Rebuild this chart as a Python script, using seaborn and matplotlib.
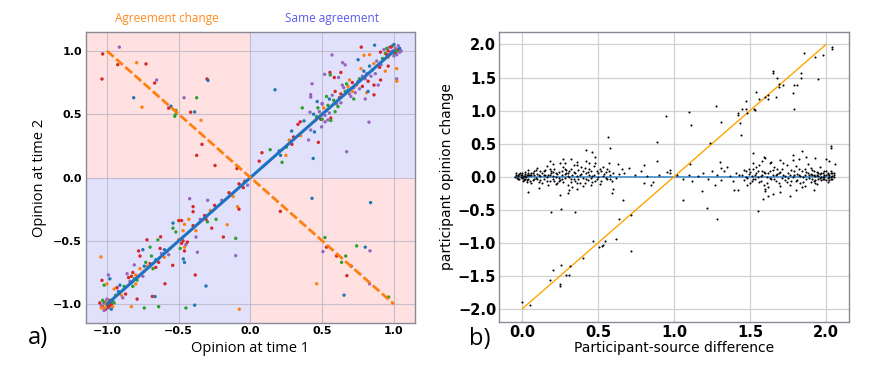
"""Two-panel opinion change figure: a) time1 vs time2, b) change vs source difference."""

import matplotlib.pyplot as plt
import matplotlib.patches as mpatches
import pandas as pd
import seaborn as sns

# ---------------- panel a data: (opinion t1, opinion t2, participant group) ----------------
top_left = [
    (-0.914, 1.03, 4), (-1.03, 0.976, 3), (-0.793, 0.907, 1), (-0.925, 0.891, 3),
    (-0.728, 0.897, 3), (-1.035, 0.778, 3), (-0.654, 0.77, 4), (-0.668, 0.746, 3),
    (-0.303, 0.778, 3), (-0.296, 0.767, 0), (-0.814, 0.63, 0), (-0.463, 0.63, 4),
    (-0.375, 0.63, 2), (-0.756, 0.556, 1), (-0.554, 0.563, 0), (-0.57, 0.548, 3),
    (-0.52, 0.53, 2), (-0.519, 0.503, 2), (-0.528, 0.484, 2), (-0.417, 0.516, 3),
    (-0.389, 0.518, 0), (-0.345, 0.452, 1), (-0.338, 0.262, 3), (-0.375, 0.175, 3),
    (-0.247, 0.095, 3), (-0.094, 0.071, 3),
]
bottom_right = [
    (0.429, -0.164, 0), (0.837, -0.198, 0), (0.208, -0.267, 3), (0.519, -0.474, 2),
    (0.505, -0.585, 4), (0.53, -0.55, 3), (0.74, -0.54, 2), (0.80, -0.55, 0),
    (0.833, -0.579, 4), (0.664, -0.62, 2), (0.635, -0.67, 2), (0.60, -0.62, 3),
    (0.702, -0.70, 3), (0.672, -0.775, 3), (0.461, -0.839, 1), (0.83, -0.84, 4),
    (0.652, -0.929, 0), (0.963, -0.944, 2),
]
top_right = [
    # cluster near (1, 1)
    (0.97, 1.03, 4), (0.99, 1.04, 2), (1.01, 1.02, 4), (1.03, 1.01, 3), (0.98, 0.99, 4),
    (1.0, 0.98, 2), (1.02, 0.97, 4), (0.96, 1.0, 3), (1.04, 0.99, 4), (1.0, 1.05, 0),
    (0.95, 1.02, 2), (0.99, 1.0, 4), (1.01, 0.99, 3), (0.97, 0.97, 4), (1.03, 1.04, 4),
    (0.94, 0.98, 2), (1.05, 1.0, 4), (0.98, 1.03, 3), (1.02, 1.0, 2), (0.96, 0.95, 1),
    (1.0, 0.96, 4), (0.93, 1.01, 4), (1.04, 1.02, 0), (0.95, 0.97, 3),
    (0.92, 0.94, 2), (0.88, 0.92, 4), (0.9, 0.87, 3), (0.86, 0.9, 1), (0.85, 0.85, 2),
    (0.87, 0.82, 4), (0.83, 0.88, 0), (0.91, 0.89, 4),
    # cluster near (0.7, 0.7)
    (0.68, 0.72, 1), (0.70, 0.70, 3), (0.72, 0.71, 4), (0.66, 0.68, 2), (0.69, 0.66, 4),
    (0.74, 0.73, 1), (0.71, 0.75, 3), (0.65, 0.71, 4), (0.73, 0.67, 4), (0.67, 0.74, 2),
    (0.70, 0.64, 4), (0.76, 0.70, 4), (0.63, 0.66, 3), (0.69, 0.77, 1), (0.75, 0.76, 4),
    (0.72, 0.62, 2), (0.64, 0.73, 4), (0.78, 0.72, 3), (0.68, 0.69, 0), (0.71, 0.68, 1),
    (0.78, 0.80, 4), (0.80, 0.78, 4), (0.82, 0.76, 3), (0.79, 0.84, 0), (0.81, 0.82, 4),
    (0.77, 0.86, 1), (0.84, 0.80, 4), (0.76, 0.78, 2),
    # cluster near (0.5, 0.5)
    (0.48, 0.52, 4), (0.50, 0.50, 3), (0.52, 0.49, 4), (0.46, 0.48, 2), (0.51, 0.55, 1),
    (0.53, 0.53, 4), (0.49, 0.46, 3), (0.55, 0.51, 4), (0.47, 0.55, 2), (0.44, 0.50, 0),
    (0.52, 0.44, 4), (0.56, 0.47, 3), (0.50, 0.58, 4), (0.45, 0.45, 1), (0.54, 0.57, 2),
    (0.58, 0.61, 2), (0.60, 0.58, 4), (0.62, 0.63, 3), (0.57, 0.65, 4), (0.61, 0.56, 2),
    (0.59, 0.68, 3), (0.63, 0.59, 4), (0.55, 0.62, 0),
    # scattered
    (0.171, 0.693, 0), (0.772, 1.03, 3), (0.865, 1.045, 0), (0.906, 0.99, 3),
    (0.568, 0.968, 4), (0.791, 0.965, 1), (0.83, 0.97, 1), (1.019, 0.86, 1),
    (1.019, 0.78, 4), (1.02, 0.76, 1), (0.642, 0.907, 4), (0.66, 0.89, 4),
    (0.75, 0.93, 0), (0.517, 0.815, 4), (0.554, 0.83, 3), (0.556, 0.81, 2),
    (0.584, 0.79, 3), (0.63, 0.83, 3), (0.614, 0.79, 4), (0.429, 0.74, 4),
    (0.42, 0.655, 4), (0.42, 0.635, 4), (0.361, 0.55, 2), (0.415, 0.516, 4),
    (0.465, 0.6, 0), (0.5, 0.585, 4), (0.53, 0.64, 2), (0.59, 0.52, 2),
    (0.56, 0.45, 2), (0.54, 0.455, 4), (0.5, 0.46, 2), (0.496, 0.4, 4),
    (0.373, 0.447, 0), (0.347, 0.44, 3), (0.331, 0.42, 3), (0.287, 0.367, 0),
    (0.42, 0.375, 4), (0.446, 0.36, 0), (0.27, 0.296, 1), (0.289, 0.262, 3),
    (0.473, 0.278, 3), (0.405, 0.296, 4), (0.08, 0.196, 3), (0.061, 0.129, 3),
    (0.137, 0.22, 2), (0.21, 0.175, 0), (0.247, 0.175, 1), (0.22, 0.12, 2),
    (0.437, 0.151, 0), (0.67, 0.204, 4), (0.826, 0.437, 4), (0.861, 0.653, 3),
    (0.81, 0.67, 1), (0.82, 0.68, 0), (0.907, 0.77, 3), (0.89, 0.73, 4),
    (0.861, 0.73, 3), (0.80, 0.62, 4), (0.94, 0.84, 1), (0.96, 0.88, 3),
    (0.2, 0.21, 0), (0.3, 0.32, 3), (0.35, 0.33, 1), (0.25, 0.24, 2),
]
bottom_left = [
    # cluster near (-1, -1)
    (-1.03, -1.02, 3), (-1.01, -0.98, 1), (-0.99, -1.03, 4), (-0.97, -1.0, 3),
    (-1.02, -0.99, 0), (-1.0, -1.01, 2), (-0.98, -0.97, 3), (-1.04, -1.01, 4),
    (-0.96, -1.02, 1), (-1.01, -1.04, 3), (-0.99, -0.99, 4), (-1.03, -0.97, 2),
    (-0.97, -1.04, 0), (-1.02, -1.03, 1), (-0.98, -1.01, 3), (-1.0, -0.96, 4),
    (-0.95, -0.99, 2), (-1.05, -0.99, 3), (-1.01, -1.0, 1), (-0.96, -0.97, 0),
    (-1.02, -1.05, 4), (-0.99, -1.02, 3), (-0.97, -0.98, 2), (-1.04, -1.03, 1),
    # cluster near (-0.82, -0.8)
    (-0.83, -0.78, 3), (-0.81, -0.80, 2), (-0.80, -0.77, 1), (-0.84, -0.82, 4),
    (-0.82, -0.75, 3), (-0.79, -0.81, 2), (-0.85, -0.79, 3), (-0.80, -0.84, 1),
    (-0.83, -0.83, 0), (-0.78, -0.78, 3), (-0.82, -0.86, 2), (-0.86, -0.76, 4),
    (-0.92, -0.90, 0), (-0.90, -0.93, 1), (-0.88, -0.86, 2), (-0.93, -0.87, 3),
    (-0.89, -0.95, 4), (-0.91, -0.85, 0), (-0.87, -0.92, 3), (-0.94, -0.93, 2),
    (-0.95, -0.88, 1),
    (-0.72, -0.70, 1), (-0.70, -0.68, 3), (-0.68, -0.72, 2), (-0.66, -0.65, 0),
    (-0.64, -0.67, 3), (-0.62, -0.60, 4), (-0.74, -0.74, 1), (-0.69, -0.62, 2),
    (-0.60, -0.63, 1), (-0.58, -0.58, 4), (-0.66, -0.71, 3), (-0.73, -0.67, 2),
    (-0.63, -0.56, 3), (-0.57, -0.61, 4), (-0.77, -0.72, 1), (-0.75, -0.78, 4),
    # cluster near (-0.47, -0.53)
    (-0.48, -0.52, 3), (-0.46, -0.55, 1), (-0.47, -0.50, 3), (-0.45, -0.53, 4),
    (-0.49, -0.56, 2), (-0.44, -0.51, 3), (-0.50, -0.49, 1), (-0.46, -0.58, 3),
    (-0.40, -0.38, 3), (-0.38, -0.42, 1), (-0.35, -0.33, 4), (-0.32, -0.30, 3),
    (-0.30, -0.35, 2), (-0.28, -0.26, 1), (-0.25, -0.22, 3), (-0.20, -0.18, 4),
    (-0.15, -0.12, 3), (-0.12, -0.15, 1), (-0.08, -0.05, 3), (-0.05, -0.08, 3),
    (-0.04, -0.03, 3), (-0.02, -0.06, 4),
    # scattered
    (-1.042, -0.627, 1), (-1.035, -0.812, 3), (-0.99, -0.77, 4), (-0.98, -0.80, 0),
    (-1.0, -0.84, 1), (-1.02, -0.85, 2), (-0.721, -0.492, 3), (-0.645, -0.492, 2),
    (-0.626, -0.468, 3), (-0.75, -0.57, 0), (-0.78, -0.58, 3), (-0.70, -0.55, 2),
    (-0.77, -0.62, 3), (-0.81, -0.69, 4), (-0.74, -0.70, 0), (-0.6, -0.57, 0),
    (-0.56, -0.56, 2), (-0.542, -0.693, 3), (-0.596, -0.839, 3), (-0.684, -0.939, 3),
    (-0.665, -0.94, 0), (-0.79, -0.96, 3), (-0.64, -1.02, 2), (-0.74, -1.03, 2),
    (-0.83, -1.02, 1), (-0.468, -0.643, 0), (-0.46, -0.67, 0), (-0.385, -0.77, 3),
    (-0.31, -0.857, 0), (-0.389, -1.008, 0), (-0.45, -1.03, 2), (-0.078, -1.04, 1),
    (-0.103, -0.617, 4), (-0.103, -0.48, 2), (-0.162, -0.373, 1), (-0.189, -0.47, 3),
    (-0.27, -0.40, 3), (-0.24, -0.33, 2), (-0.31, -0.33, 3), (-0.298, -0.18, 4),
    (-0.424, -0.167, 4), (-0.40, -0.23, 3), (-0.40, -0.27, 3), (-0.09, -0.23, 1),
    (-0.08, -0.25, 3), (-0.38, -0.47, 4), (-0.37, -0.59, 4), (-0.50, -0.34, 3),
    (-0.48, -0.34, 3), (-0.46, -0.37, 1), (-0.43, -0.33, 1), (-0.54, -0.36, 0),
    (-0.54, -0.40, 2), (-0.52, -0.43, 2), (-0.47, -0.42, 1),
]
same_line_x = [-1.0, 1.0]
same_line_y = [-1.0, 1.0]
flip_line_x = [-1.0, 1.0]
flip_line_y = [1.0, -1.0]

# ---------------- panel b data: (participant-source difference, opinion change) ----------------
band_left = [
    (-0.04, 0.02), (-0.03, -0.03), (-0.02, 0.04), (-0.01, -0.01), (0.0, 0.05),
    (0.01, -0.04), (0.02, 0.01), (0.03, -0.05), (0.04, 0.03), (-0.035, -0.02),
    (-0.015, 0.06), (0.005, -0.06), (0.025, 0.0), (0.045, 0.02), (-0.045, -0.01),
    (-0.025, 0.03), (0.015, -0.03), (0.035, 0.05), (0.0, -0.02), (0.01, 0.01),
    (0.06, 0.03), (0.07, -0.05), (0.08, 0.08), (0.09, -0.02), (0.10, 0.04),
    (0.11, -0.08), (0.12, 0.01), (0.13, 0.06), (0.14, -0.04), (0.15, 0.10),
    (0.16, -0.01), (0.17, 0.03), (0.18, -0.07), (0.19, 0.05), (0.20, -0.03),
    (0.21, 0.12), (0.22, 0.00), (0.23, -0.10), (0.24, 0.07), (0.25, -0.05),
    (0.26, 0.02), (0.27, 0.15), (0.28, -0.02), (0.29, 0.05), (0.30, -0.12),
    (0.31, 0.08), (0.32, -0.04), (0.33, 0.03), (0.34, 0.18), (0.35, -0.06),
    (0.36, 0.01), (0.37, 0.10), (0.38, -0.09), (0.39, 0.04), (0.40, -0.02),
    (0.41, 0.13), (0.42, 0.06), (0.43, -0.05), (0.44, 0.02), (0.45, 0.09),
    (0.46, -0.08), (0.47, 0.03), (0.48, 0.20), (0.49, -0.03), (0.50, 0.05),
    (0.51, 0.11), (0.52, -0.06), (0.53, 0.01), (0.55, 0.07), (0.56, -0.04),
    (0.58, 0.02), (0.60, 0.05), (0.62, -0.02), (0.64, 0.04), (0.67, 0.06),
    (0.70, 0.13), (0.74, 0.03), (0.78, 0.09), (0.82, 0.01), (0.86, -0.08),
    (0.90, 0.03), (0.95, 0.07),
    (0.05, -0.06), (0.07, 0.05), (0.09, 0.10), (0.11, 0.03), (0.13, -0.09),
    (0.15, 0.02), (0.17, -0.12), (0.19, 0.09), (0.21, -0.06), (0.23, 0.04),
    (0.25, 0.21), (0.27, -0.08), (0.29, 0.10), (0.31, -0.01), (0.33, -0.15),
    (0.35, 0.06), (0.37, -0.03), (0.39, 0.14), (0.41, -0.10), (0.43, 0.07),
    (0.45, -0.02), (0.47, 0.16), (0.49, 0.08), (0.51, -0.11), (0.53, 0.14),
    (0.55, -0.02), (0.57, 0.09), (0.59, -0.07),
    (0.02, 0.07), (0.03, -0.08), (0.04, 0.10), (0.05, 0.02), (0.06, -0.10),
    (0.08, -0.03), (0.10, 0.13), (0.12, -0.05), (0.14, 0.08), (0.16, 0.16),
    (0.18, 0.02), (0.20, 0.07), (0.22, -0.11), (0.24, -0.02), (0.26, 0.09),
    (0.28, 0.04), (0.30, 0.01), (0.32, 0.11), (0.34, -0.03), (0.36, 0.22),
    (0.00, 0.03), (0.01, -0.05), (0.02, 0.04), (0.03, 0.02), (0.04, -0.03),
    (-0.04, 0.05), (-0.03, 0.01), (-0.02, -0.04), (-0.01, 0.03), (0.005, 0.0),
    (0.06, 0.06), (0.08, 0.02), (0.10, -0.04), (0.12, 0.09), (0.14, 0.02),
    (0.16, -0.06), (0.18, 0.11), (0.20, 0.01), (0.22, 0.05), (0.24, -0.07),
    (0.26, -0.03), (0.28, 0.12), (0.30, 0.06), (0.32, -0.08), (0.34, 0.07),
    (0.36, -0.10), (0.38, 0.03), (0.40, 0.09), (0.42, -0.04), (0.44, 0.12),
    (0.46, 0.01), (0.48, -0.06), (0.50, -0.01), (0.52, 0.08), (0.54, 0.04),
    (0.56, 0.12), (0.58, -0.04),
]
outliers_left = [
    (0.565, 0.60), (0.576, 0.44), (0.89, 0.53), (0.418, 0.40), (0.46, 0.38),
    (0.27, 0.27), (0.18, 0.23), (0.20, 0.19), (0.28, 0.21), (0.32, 0.26),
    (0.36, 0.18), (0.42, 0.24), (0.44, 0.21), (0.48, 0.29), (0.57, 0.20),
    (0.63, 0.19), (0.66, 0.12), (0.80, 0.17), (0.89, 0.24), (0.97, 0.10),
    (0.97, 0.05), (0.04, -0.24), (0.11, -0.17), (0.30, -0.25), (0.31, -0.20),
    (0.25, -0.28), (0.36, -0.18), (0.40, -0.14), (0.45, -0.13), (0.59, -0.25),
    (0.595, -0.19), (0.663, -0.35), (0.19, -0.53), (0.255, -0.49), (0.35, -0.54),
    (0.637, -0.64), (0.714, -0.578), (0.80, -0.10), (0.85, -0.12),
]
band_right = [
    (1.02, 0.03), (1.06, -0.04), (1.10, 0.02), (1.12, -0.06), (1.16, 0.01),
    (1.19, 0.05), (1.22, -0.03), (1.25, 0.08), (1.28, 0.02), (1.31, -0.05),
    (1.33, 0.09), (1.35, 0.15), (1.37, 0.01), (1.39, -0.07), (1.41, 0.05),
    (1.43, 0.03),
    (1.45, 0.02), (1.46, -0.05), (1.47, 0.08), (1.48, -0.02), (1.49, 0.04),
    (1.50, -0.09), (1.51, 0.01), (1.52, 0.12), (1.53, -0.04), (1.54, 0.06),
    (1.55, -0.01), (1.56, 0.18), (1.57, -0.07), (1.58, 0.03), (1.59, -0.12),
    (1.60, 0.05), (1.61, 0.00), (1.62, -0.15), (1.63, 0.09), (1.64, -0.03),
    (1.65, 0.02), (1.66, 0.14), (1.67, -0.06), (1.68, 0.04), (1.69, -0.10),
    (1.70, 0.07), (1.71, -0.02), (1.72, 0.20), (1.73, 0.01), (1.74, -0.08),
    (1.75, 0.05), (1.76, -0.13), (1.77, 0.10), (1.78, -0.01), (1.79, 0.03),
    (1.80, 0.16), (1.81, -0.05), (1.82, 0.02), (1.83, -0.09), (1.84, 0.08),
    (1.85, 0.00), (1.86, 0.11), (1.87, -0.04), (1.88, 0.06), (1.89, -0.02),
    (1.90, 0.13), (1.91, 0.03), (1.92, -0.06), (1.93, 0.01), (1.94, 0.07),
    (1.95, -0.03), (1.96, 0.04), (1.97, -0.01), (1.98, 0.05), (1.99, -0.04),
    (2.00, 0.02), (2.01, -0.02), (2.02, 0.03), (2.03, -0.01), (2.04, 0.01),
    (1.46, 0.10), (1.48, -0.12), (1.50, 0.07), (1.52, -0.03), (1.54, 0.15),
    (1.56, -0.08), (1.58, 0.09), (1.60, -0.18), (1.62, 0.06), (1.64, 0.22),
    (1.66, -0.04), (1.68, 0.12), (1.70, -0.14), (1.72, 0.03), (1.74, 0.17),
    (1.76, 0.02), (1.78, 0.25), (1.80, -0.07), (1.82, 0.12), (1.84, -0.15),
    (1.86, 0.03), (1.88, 0.19), (1.90, -0.08), (1.92, 0.09), (1.94, -0.11),
    (1.96, 0.14), (1.98, 0.00), (2.00, 0.08), (2.02, -0.05), (2.04, 0.06),
    (1.90, 0.04), (1.91, -0.03), (1.92, 0.02), (1.93, -0.05), (1.94, 0.03),
    (1.95, 0.01), (1.96, -0.02), (1.97, 0.06), (1.98, -0.03), (1.99, 0.02),
    (2.00, -0.05), (2.01, 0.04), (2.02, 0.00), (2.03, 0.05), (2.04, -0.03),
    (2.05, 0.02), (2.05, -0.01), (1.99, 0.08), (2.01, -0.08), (2.03, 0.09),
    (1.47, -0.01), (1.49, 0.11), (1.51, -0.06), (1.53, 0.03), (1.55, 0.09),
    (1.57, 0.01), (1.59, 0.07), (1.61, -0.09), (1.63, -0.02), (1.65, 0.10),
    (1.67, 0.02), (1.69, 0.06), (1.71, 0.11), (1.73, -0.05), (1.75, -0.02),
    (1.77, -0.07), (1.79, 0.09), (1.81, 0.04), (1.83, 0.01), (1.85, -0.08),
    (1.87, 0.07), (1.89, 0.02), (1.91, 0.10), (1.93, -0.09), (1.95, 0.06),
    (1.97, -0.05), (1.99, -0.01), (2.01, 0.06), (2.03, -0.04), (2.05, 0.05),
]
outliers_right = [
    (1.105, 0.187), (1.27, -0.125), (1.186, -0.215), (1.059, -0.36), (1.215, -0.477),
    (1.28, -0.645), (1.55, -0.513), (1.586, -0.337), (1.395, -0.205), (1.42, -0.20),
    (1.30, 0.22), (1.31, 0.13), (1.44, 0.63), (1.236, 0.51),
    (2.036, 0.47), (2.036, 0.43), (1.84, 0.39), (2.0, 0.27), (2.02, 0.24),
    (2.06, 0.19), (1.60, 0.28), (1.59, 0.30), (1.70, 0.25), (1.78, 0.33),
    (1.82, 0.26), (1.87, 0.29), (1.93, 0.28), (1.52, 0.36), (1.52, 0.20),
    (1.58, 0.24), (1.63, 0.20), (1.65, -0.26), (1.70, -0.23), (1.76, -0.30),
    (1.80, -0.20), (1.86, -0.14), (1.92, -0.20), (1.60, -0.22), (1.62, -0.30),
]
flipped_points = [
    (0.945, 0.92), (1.098, 0.977), (1.111, 0.786), (1.274, 1.068), (1.309, 0.826),
    (1.474, 1.139), (1.45, 1.03), (1.47, 1.03), (1.42, 0.96), (1.42, 0.93),
    (1.432, 0.816), (1.48, 0.97), (1.524, 1.03), (1.53, 1.01), (1.54, 1.28),
    (1.56, 1.17), (1.60, 1.21), (1.62, 1.235), (1.62, 1.18), (1.651, 1.60),
    (1.651, 1.57), (1.68, 1.49), (1.67, 1.20), (1.69, 1.395), (1.69, 1.355),
    (1.72, 1.39), (1.788, 1.39), (1.808, 1.39), (1.783, 1.265), (1.79, 1.02),
    (1.838, 1.566), (1.836, 1.49), (1.858, 1.87), (1.926, 1.81), (1.95, 1.48),
    (1.98, 1.84), (2.04, 1.96), (2.04, 1.925),
    (-0.004, -1.89), (0.05, -1.94), (0.18, -1.57), (0.20, -1.42), (0.257, -1.33),
    (0.248, -1.62), (0.248, -1.655), (0.29, -1.49), (0.305, -1.49), (0.314, -1.345),
    (0.40, -1.228), (0.464, -0.976), (0.505, -1.06), (0.525, -1.05), (0.53, -1.03),
    (0.543, -0.976), (0.615, -0.937), (0.718, -1.12),
]
stay_line_x = [-0.05, 2.05]
stay_line_y = [0.0, 0.0]
flip_b_x = [0.0, 2.0]
flip_b_y = [-2.0, 2.0]

group_colors = ["#1f77b4", "#ff7f0e", "#2ca02c", "#d62728", "#9467bd"]

sns.set_theme(style="whitegrid")
plt.rcParams["font.family"] = ["DejaVu Sans"]
plt.rcParams.update({
    "text.color": "black", "axes.labelcolor": "black",
    "xtick.color": "black", "ytick.color": "black",
})

fig = plt.figure(figsize=(8.7, 3.71), dpi=100)
ax_a = fig.add_axes([0.0989, 0.129, 0.378, 0.785])
ax_b = fig.add_axes([0.5736, 0.132, 0.402, 0.782])

# ---------------- panel a ----------------
df_a = pd.DataFrame(top_left + top_right + bottom_left + bottom_right,
                    columns=["t1", "t2", "group"])
pink, lavender = "#ffe1e2", "#e1e1fc"
for (x0, y0), col in [((-2, 0), pink), ((0, 0), lavender), ((-2, -2), lavender), ((0, -2), pink)]:
    ax_a.add_patch(mpatches.Rectangle((x0, y0), 2, 2, facecolor=col, edgecolor="none", zorder=0))

sns.scatterplot(data=df_a, x="t1", y="t2", hue="group", palette=group_colors,
                s=6, linewidth=0, legend=False, ax=ax_a, zorder=3)
sns.lineplot(x=same_line_x, y=same_line_y, color="#1f72c0", linewidth=2.2, ax=ax_a, zorder=4)
sns.lineplot(x=flip_line_x, y=flip_line_y, color="#ff7f0e", linewidth=2.0,
             linestyle=(0, (3.2, 1.2)), ax=ax_a, zorder=4)

ax_a.set_xlim(-1.146, 1.146)
ax_a.set_ylim(-1.15, 1.15)
ax_a.set_xticks([-1.0, -0.5, 0.0, 0.5, 1.0])
ax_a.set_yticks([-1.0, -0.5, 0.0, 0.5, 1.0])
ax_a.set_axisbelow(True)
ax_a.grid(True, color="#b9b4c8", linewidth=0.8, alpha=0.8)
ax_a.set_facecolor("white")
ax_a.set_xlabel("Opinion at time 1", fontsize=10.5, family=["Open Sans", "DejaVu Sans"], labelpad=4)
ax_a.set_ylabel("Opinion at time 2", fontsize=10.5, family=["Open Sans", "DejaVu Sans"], labelpad=4)
ax_a.tick_params(labelsize=8, length=0, pad=3)
ax_a.tick_params(axis="x", pad=2)
ax_a.text(0.246, 1.045, "Agreement change", transform=ax_a.transAxes, ha="center", va="center",
          color="#ff8a1c", fontsize=8.5, family=["Open Sans", "DejaVu Sans"])
ax_a.text(0.748, 1.045, "Same agreement", transform=ax_a.transAxes, ha="center", va="center",
          color="#5a5af0", fontsize=8.5, family=["Open Sans", "DejaVu Sans"])

# ---------------- panel b ----------------
df_b = pd.DataFrame(band_left + outliers_left + band_right + outliers_right + flipped_points,
                    columns=["diff", "change"])
sns.lineplot(x=stay_line_x, y=stay_line_y, color="#5b9bd5", linewidth=1.4, ax=ax_b, zorder=2)
sns.lineplot(x=flip_b_x, y=flip_b_y, color="#ffa500", linewidth=1.0, ax=ax_b, zorder=2)
sns.scatterplot(data=df_b, x="diff", y="change", color="black", s=2.2, linewidth=0,
                legend=False, ax=ax_b, zorder=3)

ax_b.set_xlim(-0.153, 2.15)
ax_b.set_ylim(-2.2, 2.19)
ax_b.set_xticks([0.0, 0.5, 1.0, 1.5, 2.0])
ax_b.set_yticks([-2.0, -1.5, -1.0, -0.5, 0.0, 0.5, 1.0, 1.5, 2.0])
ax_b.grid(True, color="#d0d0d0", linewidth=0.9)
ax_b.set_xlabel("Participant-source difference", fontsize=10, labelpad=1)
ax_b.set_ylabel("participant opinion change", fontsize=10, labelpad=3)
ax_b.tick_params(labelsize=10.5, length=0, pad=2)

for ax in (ax_a, ax_b):
    for lab in ax.get_xticklabels() + ax.get_yticklabels():
        lab.set_fontweight("bold")
    for sp in ax.spines.values():
        sp.set_visible(True)
        sp.set_color("#8a8a96")
        sp.set_linewidth(1.0)

fig.text(0.044, 0.09, "a)", fontsize=17, ha="center", va="center", family=["Open Sans", "DejaVu Sans"])
fig.text(0.551, 0.085, "b)", fontsize=17, ha="center", va="center", family=["Open Sans", "DejaVu Sans"])

fig.savefig("out.png", dpi=100)
